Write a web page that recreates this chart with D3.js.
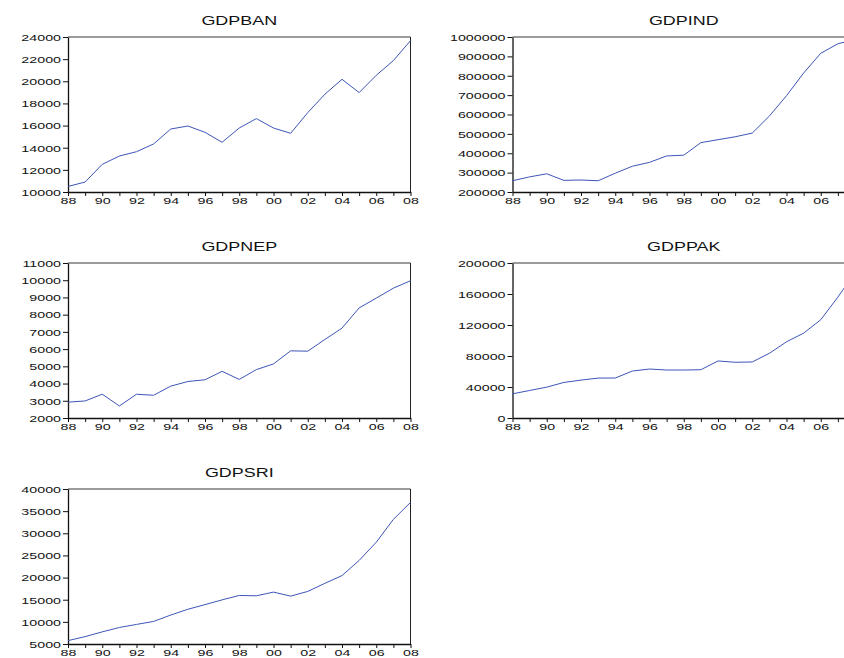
<!DOCTYPE html>
<html>
<head>
<meta charset="utf-8">
<script src="https://cdn.jsdelivr.net/npm/d3@7"></script>
<style>
  html, body { margin: 0; padding: 0; background: #fff; }
  svg { display: block; }
  text { font-family: Arial, "Liberation Sans", sans-serif; fill: #111; }
</style>
</head>
<body>
<svg id="chart" width="844" height="658"></svg>
<script>
// Annual GDP series, 1988-2008
const years = [1988,1989,1990,1991,1992,1993,1994,1995,1996,1997,1998,1999,2000,2001,2002,2003,2004,2005,2006,2007,2008];
const yearLabels = ["88","90","92","94","96","98","00","02","04","06","08"];

const gdpBan = [10500,10900,12500,13250,13640,14340,15690,15960,15390,14490,15780,16630,15780,15300,17170,18830,20180,18980,20540,21870,23670];
const gdpInd = [258000,278000,294000,260000,262000,258000,297000,333000,353000,386000,390000,455000,470000,485000,504000,592000,697000,814000,916000,965000,988000];
const gdpNep = [2920,2990,3380,2700,3380,3320,3850,4120,4220,4710,4240,4810,5140,5900,5880,6560,7220,8390,8960,9540,9970];
const gdpPak = [31200,35500,39800,45900,48900,51500,51600,60600,63200,61900,61900,62300,73600,71900,72300,83500,98300,109500,126800,156000,188000];
const gdpSri = [5760,6670,7740,8730,9420,10100,11540,12840,13900,14970,15960,15880,16720,15810,16870,18700,20450,23870,27980,33150,36960];

const banTicks = [10000,12000,14000,16000,18000,20000,22000,24000];
const indTicks = [200000,300000,400000,500000,600000,700000,800000,900000,1000000];
const nepTicks = [2000,3000,4000,5000,6000,7000,8000,9000,10000,11000];
const pakTicks = [0,40000,80000,120000,160000,200000];
const sriTicks = [5000,10000,15000,20000,25000,30000,35000,40000];

const panels = [
  { title: "GDPBAN", values: gdpBan, ticks: banTicks, col: 0, row: 0 },
  { title: "GDPIND", values: gdpInd, ticks: indTicks, col: 1, row: 0 },
  { title: "GDPNEP", values: gdpNep, ticks: nepTicks, col: 0, row: 1 },
  { title: "GDPPAK", values: gdpPak, ticks: pakTicks, col: 1, row: 1 },
  { title: "GDPSRI", values: gdpSri, ticks: sriTicks, col: 0, row: 2 }
];

// grid geometry
const pageW = 844;
const colLeft = [68, 512.5];
const plotW = 342.5;
const rowTop = [37, 263, 489];
const plotH = 155;
const textStretch = 1.5;
const lineColor = "#3d55b8";

const svg = d3.select("#chart");

panels.forEach(p => {
  const x0 = colLeft[p.col], y0 = rowTop[p.row];
  const g = svg.append("g").attr("transform", `translate(${x0},${y0})`);

  const x = d3.scaleLinear().domain([years[0], years[years.length - 1]]).range([0, plotW]);
  const y = d3.scaleLinear().domain([p.ticks[0], p.ticks[p.ticks.length - 1]]).range([plotH, 0]);

  // title
  g.append("text")
    .attr("transform", `translate(${plotW / 2},${-12.5}) scale(1.38,1)`)
    .attr("text-anchor", "middle")
    .style("font-size", "13px")
    .text(p.title);

  // frame: grey top edge, dark right edge
  g.append("line").attr("x1", 0).attr("x2", plotW).attr("y1", 0).attr("y2", 0)
    .attr("stroke", "#7a7a7a").attr("stroke-width", 1.6);
  g.append("line").attr("x1", plotW).attr("x2", plotW).attr("y1", 0).attr("y2", plotH)
    .attr("stroke", "#222").attr("stroke-width", 1);

  // y axis
  const yAxis = g.append("g").call(
    d3.axisLeft(y).tickValues(p.ticks).tickSize(5).tickSizeOuter(0).tickFormat(d3.format("d"))
  );
  yAxis.select(".domain").attr("stroke", "#111").attr("stroke-width", 1.3);
  yAxis.selectAll(".tick line").attr("stroke", "#111");
  yAxis.selectAll(".tick text")
    .attr("x", null).attr("dy", null)
    .attr("transform", `translate(-7,3.3) scale(${textStretch},1)`)
    .attr("text-anchor", "end")
    .style("font-size", "9.5px")
    .style("font-family", "Arial, 'Liberation Sans', sans-serif")
    .attr("fill", "#111");

  // x axis: tick every year, label every other year that falls on the page
  const xAxis = g.append("g").attr("transform", `translate(0,${plotH})`).call(
    d3.axisBottom(x).tickValues(years).tickSize(4).tickSizeOuter(0)
      .tickFormat(d => (d % 2 === 0 && x0 + x(d) + 10 <= pageW ? yearLabels[(d - years[0]) / 2] : ""))
  );
  xAxis.select(".domain").attr("stroke", "#111").attr("stroke-width", 1.3);
  xAxis.selectAll(".tick line").attr("stroke", "#111");
  xAxis.selectAll(".tick text")
    .attr("y", null).attr("dy", null)
    .attr("transform", `translate(0,12) scale(${textStretch},1)`)
    .attr("text-anchor", "middle")
    .style("font-size", "9.5px")
    .style("font-family", "Arial, 'Liberation Sans', sans-serif")
    .attr("fill", "#111");

  // series line
  const line = d3.line().x((d, i) => x(years[i])).y(d => y(d));
  g.append("path")
    .datum(p.values)
    .attr("d", line)
    .attr("fill", "none")
    .attr("stroke", lineColor)
    .attr("stroke-width", 1);
});
</script>
</body>
</html>
